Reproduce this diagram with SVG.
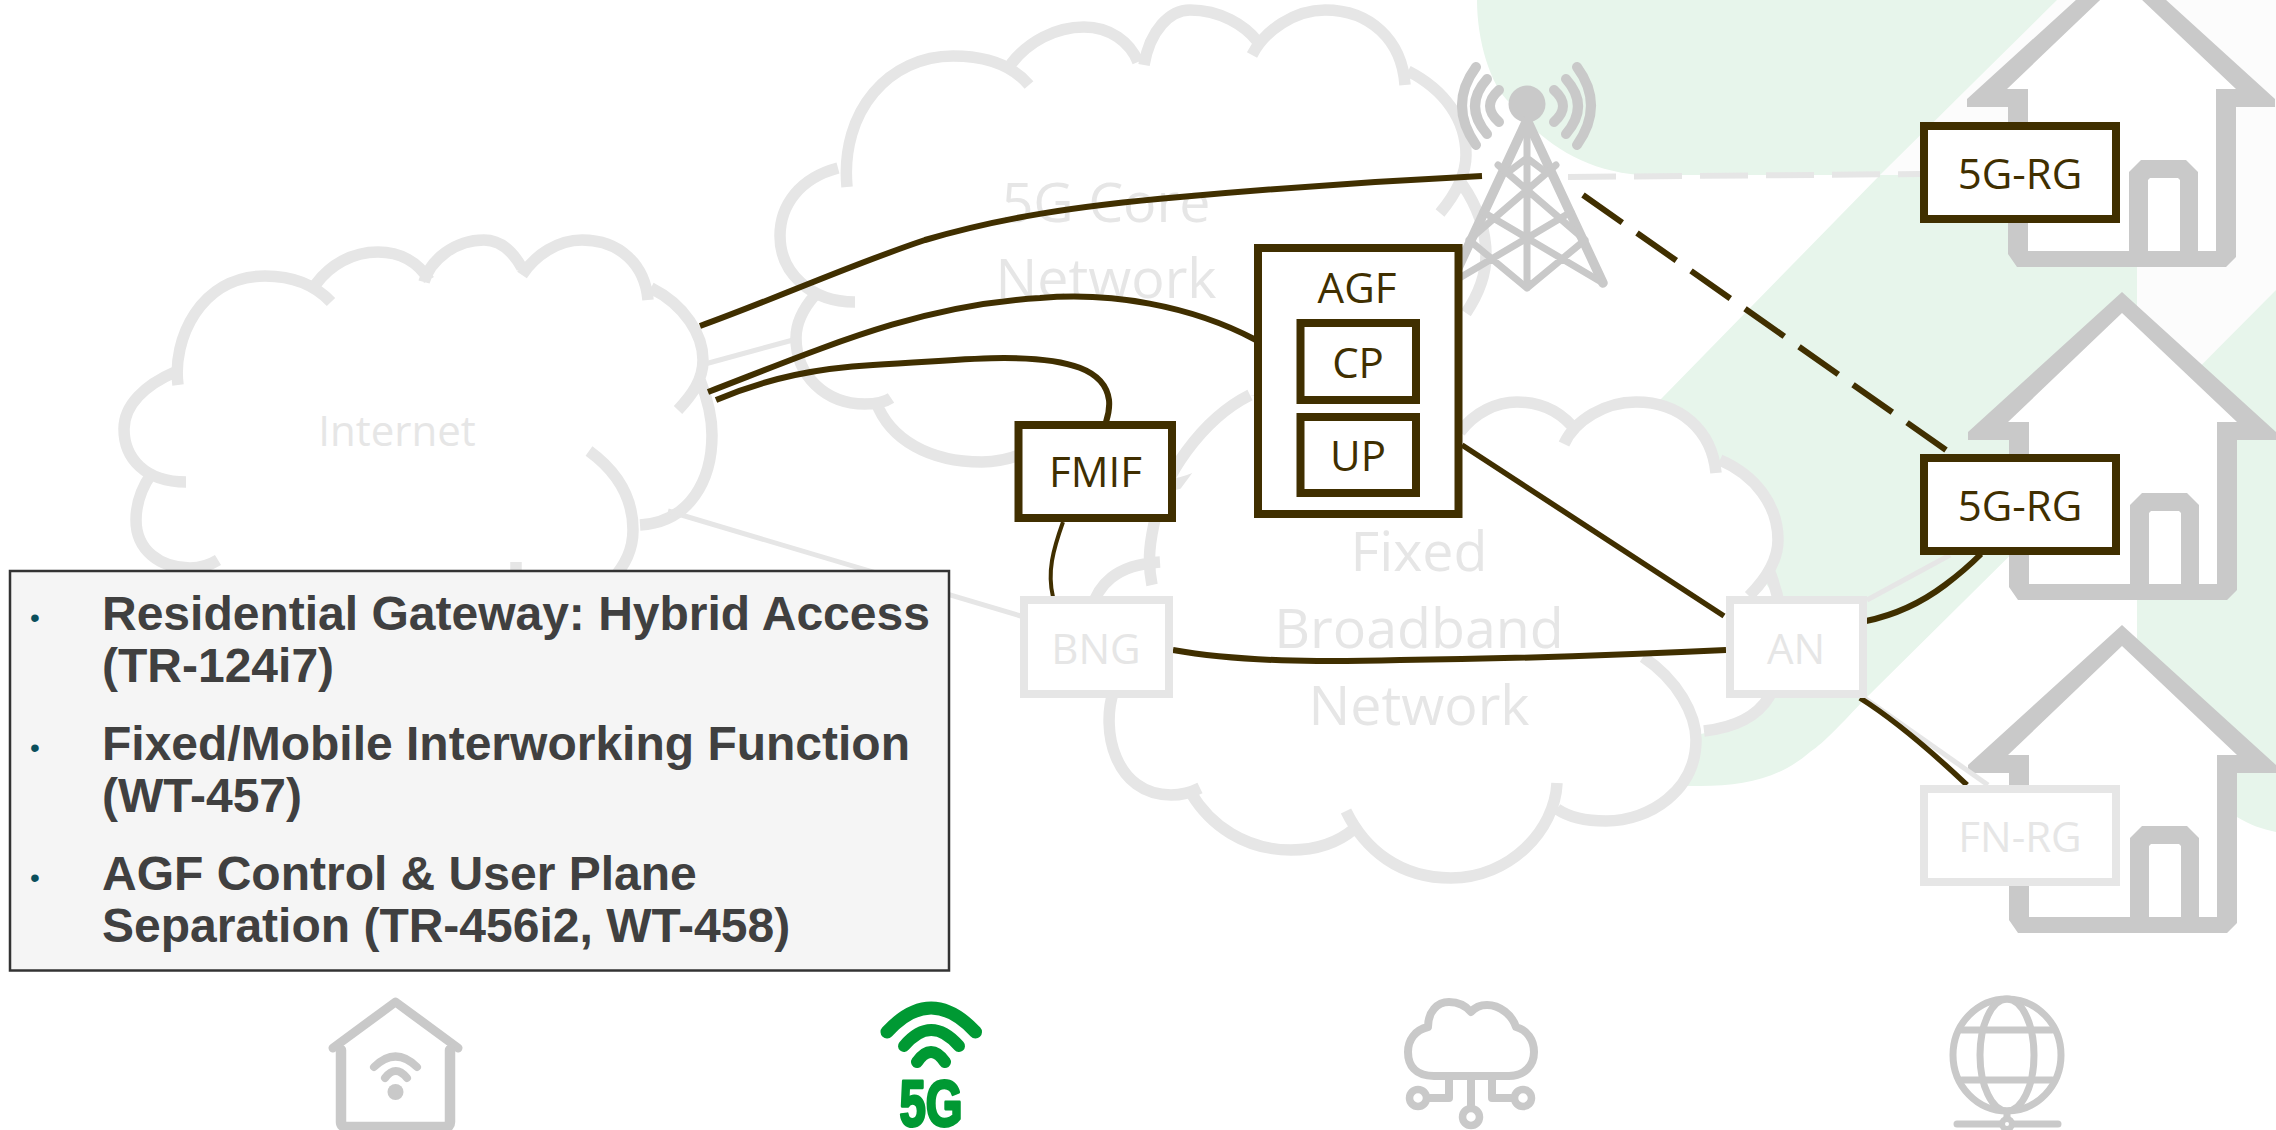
<svg xmlns="http://www.w3.org/2000/svg" xmlns:xlink="http://www.w3.org/1999/xlink" width="2276" height="1130" viewBox="0 0 2276 1130">
<style>
text{font-family:"Open Sans","Noto Sans",sans-serif;text-anchor:middle}
.lab{font-size:42px;fill:#402f00}
.fad{font-size:42px;fill:#e6e6e6}
.big{font-size:55.5px;fill:#e6e6e6}
.box{fill:#fff;stroke:#402f00;stroke-width:8}
.fbox{fill:#fff;stroke:#e6e6e6;stroke-width:8}
.cloud{fill:none;stroke:#e6e6e6;stroke-width:11.5}
.lc{fill:none;stroke:#e6e6e6;stroke-width:5}
.dc{fill:none;stroke:#402f00;stroke-width:6}
.dash{stroke-dasharray:48 18;stroke-width:6}
.g{fill:none;stroke:#c9c9c9;stroke-linecap:round;stroke-linejoin:round}
.gf{fill:#c9c9c9}
.p{font-family:"Liberation Sans",Arial,sans-serif;font-weight:bold;font-size:48px;fill:#404040;text-anchor:start}
.b{font-family:"Liberation Sans",Arial,sans-serif;font-size:28px;fill:#0b4f5c;text-anchor:middle}
.gr{fill:none;stroke:#009933;stroke-linecap:round}
</style>
<defs>
<g id="house">
<path class="gf" d="M2122,292L1968,432V440H2009V587L2018,600H2227L2237,590V440H2276V432Z"/>
<path fill="#fff" d="M2122,313L2008,422H2029V584H2217V422H2237Z"/>
<path class="gf" d="M2130,584V505L2142,493H2187L2199,505V584Z"/>
<path fill="#fff" d="M2149,584V513L2151,511H2179L2181,513V584Z"/>
</g>
</defs>
<rect width="2276" height="1130" fill="#fff"/>
<g id="background">
<path fill="#fcfcfc" d="M2057,0H2276V290L2137,430V175H1880Z"/>
<path fill="#e7f5eb" d="M1477,0C1477,40 1490,85 1510,103C1540,140 1580,170 1640,175H1880L2057,0Z"/>
<path fill="#e7f5eb" d="M1880,175H2137V430L1867,697C1840,725 1825,742 1810,752C1780,778 1745,786 1700,786H1600V460L1662,398Z"/>
<path fill="#e7f5eb" d="M2137,430L2276,290V832C2262,829 2250,825 2237,817L2137,760Z"/>
</g>
<g id="cloud-5g-core">
<path fill="#fff" d="M844,145L953,56L1084,27L1190,10L1325,10L1466,155L1486,255L1240,445L982,462L865,404L796,338L780,236Z"/>
<path class="cloud" d="M847,187C840,110 890,56 953,56C985,56 1012,65 1029,85M1011,64C1028,42 1055,27 1084,27C1110,27 1130,42 1138,62M1144,65C1150,30 1170,10 1190,10C1220,10 1245,25 1258,42M1252,55C1265,30 1295,10 1325,10C1370,10 1402,40 1405,85M1408,71C1445,90 1466,120 1466,155C1466,175 1455,195 1440,213M1462,184C1480,210 1486,235 1486,255C1486,275 1478,295 1466,313M1252,395C1252,420 1246,440 1235,450C1215,472 1195,480 1172,485M838,168C800,178 780,205 780,236C780,272 810,302 855,302M815,295C802,310 796,325 796,338C796,375 825,404 865,404C875,404 885,402 891,398M876,402C890,440 930,462 982,462C1000,462 1015,458 1030,450"/>
<text class="big" x="1106" y="222">5G Core</text>
<text class="big" x="1106" y="298">Network</text>
</g>
<g id="cloud-internet">
<path fill="#fff" d="M172,345L265,276L378,252L484,240L582,240L703,360L712,433L640,525L604,580H190L136,520L124,429Z"/>
<path class="cloud" d="M178,385C172,340 200,276 265,276C292,276 315,285 331,302M316,284C330,265 352,252 378,252C400,252 418,262 429,280M424,282C430,260 455,240 484,240C500,240 512,250 522,268M522,275C535,255 558,240 582,240C620,240 645,265 648,300M651,288C685,305 703,335 703,360C703,380 692,395 678,410M700,380C708,400 712,420 712,435C712,480 690,522 640,525M589,451C615,470 633,495 633,530C633,550 625,565 612,580M516,562V575M175,372C145,385 124,405 124,429C124,458 145,482 186,482M152,473C140,490 136,505 136,520C136,550 160,568 190,568C200,568 210,565 218,560"/>
<text class="fad" x="397" y="446">Internet</text>
</g>
<g id="cloud-fixed">
<path fill="#fff" d="M1460,432C1475,412 1497,402 1517,402C1542,402 1562,412 1570,432C1580,418 1605,402 1636,402C1680,402 1712,430 1716,465C1755,475 1778,505 1778,540C1778,555 1772,570 1765,582C1785,610 1790,660 1769,697C1755,720 1730,728 1696,735C1696,790 1650,821 1606,821C1585,821 1570,818 1552,812C1530,850 1495,878 1451,878C1410,878 1375,860 1352,830C1335,845 1312,850 1291,850C1245,850 1210,825 1191,793C1180,795 1175,795 1171,795C1115,795 1100,730 1102,700L1094,600L1150,530L1250,395Z"/>
<path class="cloud" d="M1152,585C1147,560 1150,540 1156,515C1162,480 1200,420 1250,395M1460,432C1475,412 1497,402 1517,402C1542,402 1562,412 1577,432M1564,444C1575,420 1605,402 1636,402C1680,402 1712,430 1716,473M1720,460C1755,475 1778,505 1778,540C1778,560 1765,580 1749,596M1769,570C1785,610 1790,660 1769,697C1755,720 1730,728 1704,731M1643,657C1678,680 1696,715 1696,740C1696,790 1650,821 1606,821C1585,821 1570,818 1557,809M1557,783C1555,830 1510,878 1451,878C1400,878 1365,850 1346,811M1354,829C1335,845 1312,850 1291,850C1245,850 1210,825 1191,793M1114,690C1100,730 1115,795 1171,795C1180,795 1190,793 1200,788M1160,562C1115,565 1098,585 1091,610"/>
<text class="big" x="1419" y="571">Fixed</text>
<text class="big" x="1419" y="648">Broadband</text>
<text class="big" x="1419" y="725">Network</text>
</g>
<g id="house-1"><use xlink:href="#house" href="#house" y="-333" x="-1"/></g>
<g id="house-2"><use xlink:href="#house" href="#house"/></g>
<g id="house-3"><use xlink:href="#house" href="#house" y="333"/></g>
<g id="tower">
<circle class="gf" cx="1527" cy="104" r="18.500"/>
<path class="g" stroke-width="10" d="M1577,67Q1605,105 1577,145M1566,79Q1590,106 1566,134M1554,90Q1572,106 1554,122M1476,67Q1448,105 1476,145M1487,79Q1463,106 1487,134M1499,90Q1481,106 1499,122"/>
<path class="g" stroke-width="9.500" d="M1527,120L1451,283M1527,120L1603,283"/>
<path class="g" stroke-width="7" d="M1527,120V288M1451,283L1571,212M1603,283L1483,212M1527,288L1469,240M1527,288L1585,240M1469,240L1556,165M1585,240L1498,165M1511,170L1527,158L1543,170"/>
</g>
<g id="connectors">
<path class="lc" d="M705,364L793,340"/>
<path class="lc" d="M668,511L1024,617"/>
<path class="lc dash" d="M1568,177L1920,174"/>
<path class="lc" d="M1867,600L1950,555"/>
<path class="lc" d="M1863,697L1988,785"/>
<path class="dc" d="M700,326C780,297 850,265 925,240C1000,218 1075,206 1180,197C1280,188 1380,181 1482,176"/>
<path class="dc" d="M708,392C830,345 920,305 1040,298C1110,292 1190,305 1256,340"/>
<path class="dc" d="M716,400C770,377 820,368 873,365C930,362 970,358 1004,358C1070,358 1105,370 1109,400Q1110,410 1106,422"/>
<path class="dc" style="stroke-width:4" d="M1063,522C1053,550 1047,572 1053,597"/>
<path class="dc" style="stroke-width:5.500" d="M1462,445L1724,616"/>
<path class="dc" d="M1173,650C1240,662 1320,662 1400,660C1500,659 1620,655 1726,650"/>
<path class="dc" d="M1866,621C1900,614 1925,600 1945,585Q1965,570 1981,554"/>
<path class="dc" style="stroke-width:5.500" d="M1860,698C1895,720 1930,750 1967,785"/>
<path class="dc dash" d="M1583,195L1946,450"/>
</g>
<g id="node-fmif"><rect class="box" x="1018.500" y="425" width="153.500" height="93"/><text class="lab" x="1095.500" y="487">FMIF</text></g>
<g id="node-agf"><rect class="box" x="1258" y="248" width="200.500" height="266"/><text class="lab" x="1357" y="303">AGF</text></g>
<g id="node-cp"><rect class="box" x="1300.500" y="323" width="115.500" height="77"/><text class="lab" x="1358" y="378">CP</text></g>
<g id="node-up"><rect class="box" x="1300.500" y="417" width="115.500" height="76"/><text class="lab" x="1358" y="471">UP</text></g>
<g id="node-bng"><rect class="fbox" x="1024" y="600" width="145" height="94"/><text class="fad" x="1096" y="664">BNG</text></g>
<g id="node-an"><rect class="fbox" x="1730" y="600" width="133" height="94"/><text class="fad" x="1796" y="664">AN</text></g>
<g id="node-rg1"><rect class="box" x="1924" y="126" width="192" height="93"/><text class="lab" x="2020" y="189">5G-RG</text></g>
<g id="node-rg2"><rect class="box" x="1924" y="458" width="192" height="93"/><text class="lab" x="2020" y="521">5G-RG</text></g>
<g id="node-fnrg"><rect class="fbox" x="1924" y="789" width="192" height="93"/><text class="fad" x="2020" y="852">FN-RG</text></g>
<g id="panel">
<rect x="10" y="571" width="939" height="399.500" fill="#f5f5f5" stroke="#333" stroke-width="2.500"/>
<text class="b" x="35" y="627">•</text>
<text class="p" x="102" y="630">Residential Gateway: Hybrid Access</text>
<text class="p" x="102" y="682">(TR-124i7)</text>
<text class="b" x="35" y="757">•</text>
<text class="p" x="102" y="760">Fixed/Mobile Interworking Function</text>
<text class="p" x="102" y="812">(WT-457)</text>
<text class="b" x="35" y="887">•</text>
<text class="p" x="102" y="890">AGF Control &amp; User Plane</text>
<text class="p" x="102" y="942">Separation (TR-456i2, WT-458)</text>
</g>
<g id="icon-home">
<path class="g" stroke-width="9" d="M333,1048L395.500,1002L458,1048"/>
<path class="g" stroke-width="10.500" d="M341,1050V1122Q341,1127 347,1127H445Q450,1127 450,1122V1050"/>
<path class="g" stroke-width="8" d="M374,1067Q395.500,1046 417,1067M385,1078Q395.500,1064 407,1078"/>
<ellipse class="gf" cx="395.500" cy="1092" rx="8" ry="8"/>
</g>
<g id="icon-5g">
<path class="gr" stroke-width="13" d="M887,1032Q931,984 975.500,1032"/>
<path class="gr" stroke-width="12" d="M904,1046Q931,1014 959,1046M917,1062Q931,1042 945,1062"/>
<text transform="translate(931,1126) scale(.74,1)" font-size="64" style="font-family:'Liberation Sans',sans-serif;font-weight:bold;fill:#009933;stroke:#009933;stroke-width:3;stroke-linejoin:round">5G</text>
</g>
<g id="icon-cloud">
<path class="g" stroke-width="8" d="M1434,1076C1415,1076 1408,1065 1408,1052C1408,1040 1415,1030 1428,1027C1428,1012 1437,1002 1449,1002C1459,1002 1466,1006 1471,1012C1476,1006 1482,1005 1487,1005C1500,1005 1512,1015 1516,1027C1527,1030 1534,1040 1534,1052C1534,1065 1525,1076 1509,1076Z"/>
<path class="g" stroke-width="8" d="M1449,1080V1098H1430M1492,1080V1098H1511M1471,1080V1106"/>
<circle class="g" stroke-width="7.500" cx="1418" cy="1098" r="8.500"/>
<circle class="g" stroke-width="7.500" cx="1523" cy="1098" r="8.500"/>
<circle class="g" stroke-width="7.500" cx="1471" cy="1117" r="8.500"/>
</g>
<g id="icon-globe">
<ellipse class="g" stroke-width="7" cx="2007" cy="1055" rx="54" ry="56"/>
<ellipse class="g" stroke-width="7" cx="2007" cy="1055" rx="27" ry="56"/>
<path class="g" stroke-width="7" d="M1962,1030H2052M1962,1080H2052"/>
<path class="g" stroke-width="7" d="M1957,1124H2058M2007,1112V1118"/>
<circle fill="#fff" stroke="#c9c9c9" stroke-width="6" cx="2007" cy="1124" r="5"/>
</g>
</svg>
